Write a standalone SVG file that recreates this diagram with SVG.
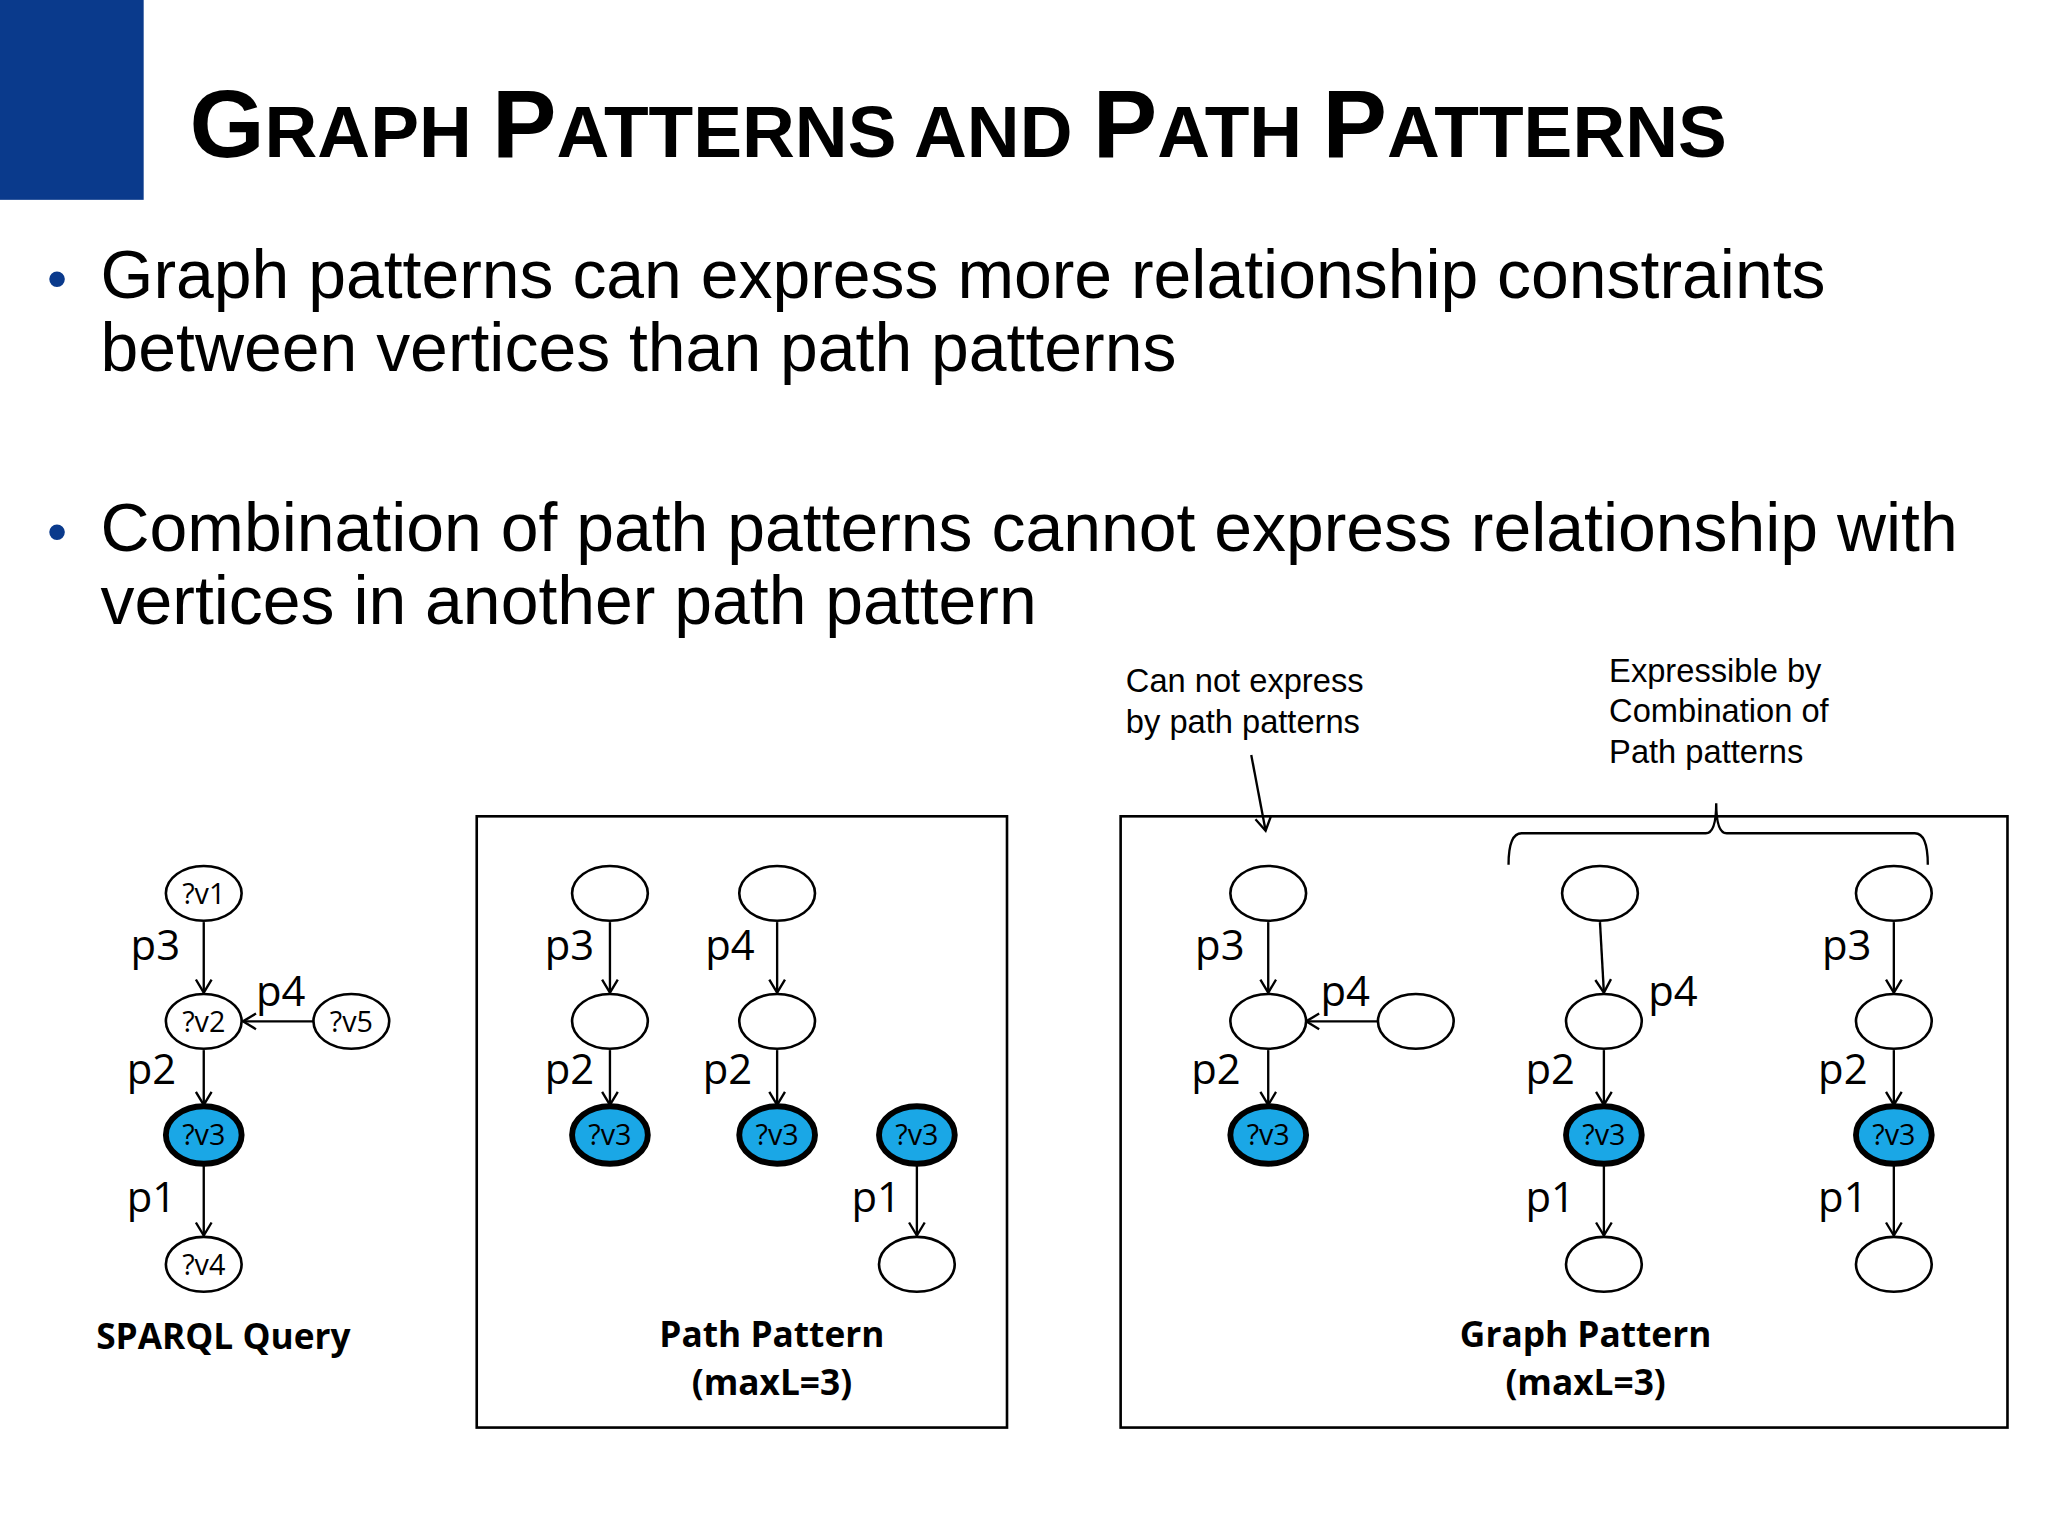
<svg xmlns="http://www.w3.org/2000/svg" width="2048" height="1536" viewBox="0 0 2048 1536">
<style>
.t{font-family:"Liberation Sans",Arial,sans-serif;fill:#000}
.lbl{font-family:"Open Sans","Noto Sans",sans-serif;font-size:32px}
.nt{font-family:"Open Sans","Noto Sans",sans-serif;font-size:22px;text-anchor:middle}
.n ellipse{fill:#fff;stroke:#000;stroke-width:2}
.v ellipse{fill:#1aa7e6;stroke:#000;stroke-width:4.5}
.cap{font-family:"Open Sans","Noto Sans",sans-serif;font-weight:bold;font-size:27px;text-anchor:middle}
.e{stroke:#000;stroke-width:1.8;fill:none;marker-end:url(#a)}
.box{fill:none;stroke:#000;stroke-width:2}
</style>
<defs><marker id="a" markerWidth="14" markerHeight="14" refX="12" refY="7" orient="auto" markerUnits="userSpaceOnUse"><polyline points="2,1 12,7 2,13" fill="none" stroke="#000" stroke-width="1.8"/></marker></defs>
<rect width="2048" height="1536" fill="#fff"/>
<g transform="scale(1.3061)">
<rect x="0" y="0" width="110" height="153" fill="#0a3a8c"/>
<text class="t" x="145" y="120" font-weight="bold" font-size="74">G<tspan font-size="56">RAPH </tspan>P<tspan font-size="56">ATTERNS AND </tspan>P<tspan font-size="56">ATH </tspan>P<tspan font-size="56">ATTERNS</tspan></text>
<g class="t" font-size="52">
<text x="36" y="228" fill="#0a3a8c" font-size="44">•</text>
<text x="77" y="228">Graph patterns can express more relationship constraints</text>
<text x="77" y="284">between vertices than path patterns</text>
<text x="36" y="422" fill="#0a3a8c" font-size="44">•</text>
<text x="77" y="422">Combination of path patterns cannot express relationship with</text>
<text x="77" y="478">vertices in another path pattern</text>
</g>
<g class="t" font-size="25">
<text x="862" y="530">Can not express</text><text x="862" y="561">by path patterns</text>
<text x="1232" y="522">Expressible by</text><text x="1232" y="553">Combination of</text><text x="1232" y="584">Path patterns</text>
</g>
<rect class="box" x="365" y="625" width="406" height="468"/>
<rect class="box" x="858" y="625" width="679" height="468"/>
<path d="M1155,662 Q1155,638 1165,638 L1306,638 Q1314,638 1314,615 Q1314,638 1322,638 L1466,638 Q1476,638 1476,662" fill="none" stroke="#000" stroke-width="1.8"/>
<g id="connectors">
<line class="e" x1="958" y1="578" x2="969" y2="636"/>
<line class="e" x1="156" y1="706" x2="156" y2="760"/>
<line class="e" x1="240" y1="782" x2="186" y2="782"/>
<line class="e" x1="156" y1="804" x2="156" y2="846"/>
<line class="e" x1="156" y1="892" x2="156" y2="946"/>
<line class="e" x1="467" y1="706" x2="467" y2="760"/>
<line class="e" x1="467" y1="804" x2="467" y2="846"/>
<line class="e" x1="595" y1="706" x2="595" y2="760"/>
<line class="e" x1="595" y1="804" x2="595" y2="846"/>
<line class="e" x1="702" y1="892" x2="702" y2="946"/>
<line class="e" x1="971" y1="706" x2="971" y2="760"/>
<line class="e" x1="1055" y1="782" x2="1000" y2="782"/>
<line class="e" x1="971" y1="804" x2="971" y2="846"/>
<line class="e" x1="1225" y1="706" x2="1228" y2="760"/>
<line class="e" x1="1228" y1="804" x2="1228" y2="846"/>
<line class="e" x1="1228" y1="892" x2="1228" y2="946"/>
<line class="e" x1="1450" y1="706" x2="1450" y2="760"/>
<line class="e" x1="1450" y1="804" x2="1450" y2="846"/>
<line class="e" x1="1450" y1="892" x2="1450" y2="946"/>
</g>
<g class="lbl">
<text x="100" y="735">p3</text><text x="196" y="770">p4</text><text x="97" y="830">p2</text><text x="97" y="928">p1</text>
<text x="417" y="735">p3</text><text x="417" y="830">p2</text><text x="540" y="735">p4</text><text x="538" y="830">p2</text><text x="652" y="928">p1</text>
<text x="915" y="735">p3</text><text x="1011" y="770">p4</text><text x="912" y="830">p2</text>
<text x="1262" y="770">p4</text><text x="1168" y="830">p2</text><text x="1168" y="928">p1</text>
<text x="1395" y="735">p3</text><text x="1392" y="830">p2</text><text x="1392" y="928">p1</text>
</g>
<g id="q1" class="n"><ellipse cx="156" cy="684" rx="29" ry="21"/><text class="nt" x="156" y="692">?v1</text></g>
<g id="q2" class="n"><ellipse cx="156" cy="782" rx="29" ry="21"/><text class="nt" x="156" y="790">?v2</text></g>
<g id="q5" class="n"><ellipse cx="269" cy="782" rx="29" ry="21"/><text class="nt" x="269" y="790">?v5</text></g>
<g id="q3" class="v"><ellipse cx="156" cy="869" rx="29" ry="22"/><text class="nt" x="156" y="877">?v3</text></g>
<g id="q4" class="n"><ellipse cx="156" cy="968" rx="29" ry="21"/><text class="nt" x="156" y="976">?v4</text></g>
<text class="cap" x="171" y="1033">SPARQL Query</text>
<g id="pa1" class="n"><ellipse cx="467" cy="684" rx="29" ry="21"/></g>
<g id="pa2" class="n"><ellipse cx="467" cy="782" rx="29" ry="21"/></g>
<g id="pa3" class="v"><ellipse cx="467" cy="869" rx="29" ry="22"/><text class="nt" x="467" y="877">?v3</text></g>
<g id="pb1" class="n"><ellipse cx="595" cy="684" rx="29" ry="21"/></g>
<g id="pb2" class="n"><ellipse cx="595" cy="782" rx="29" ry="21"/></g>
<g id="pb3" class="v"><ellipse cx="595" cy="869" rx="29" ry="22"/><text class="nt" x="595" y="877">?v3</text></g>
<g id="pc3" class="v"><ellipse cx="702" cy="869" rx="29" ry="22"/><text class="nt" x="702" y="877">?v3</text></g>
<g id="pc4" class="n"><ellipse cx="702" cy="968" rx="29" ry="21"/></g>
<text class="cap" x="591" y="1031">Path Pattern</text><text class="cap" x="591" y="1068">(maxL=3)</text>
<g id="ga1" class="n"><ellipse cx="971" cy="684" rx="29" ry="21"/></g>
<g id="ga2" class="n"><ellipse cx="971" cy="782" rx="29" ry="21"/></g>
<g id="ga5" class="n"><ellipse cx="1084" cy="782" rx="29" ry="21"/></g>
<g id="ga3" class="v"><ellipse cx="971" cy="869" rx="29" ry="22"/><text class="nt" x="971" y="877">?v3</text></g>
<g id="gb1" class="n"><ellipse cx="1225" cy="684" rx="29" ry="21"/></g>
<g id="gb2" class="n"><ellipse cx="1228" cy="782" rx="29" ry="21"/></g>
<g id="gb3" class="v"><ellipse cx="1228" cy="869" rx="29" ry="22"/><text class="nt" x="1228" y="877">?v3</text></g>
<g id="gb4" class="n"><ellipse cx="1228" cy="968" rx="29" ry="21"/></g>
<g id="gc1" class="n"><ellipse cx="1450" cy="684" rx="29" ry="21"/></g>
<g id="gc2" class="n"><ellipse cx="1450" cy="782" rx="29" ry="21"/></g>
<g id="gc3" class="v"><ellipse cx="1450" cy="869" rx="29" ry="22"/><text class="nt" x="1450" y="877">?v3</text></g>
<g id="gc4" class="n"><ellipse cx="1450" cy="968" rx="29" ry="21"/></g>
<text class="cap" x="1214" y="1031">Graph Pattern</text><text class="cap" x="1214" y="1068">(maxL=3)</text>
</g>
</svg>
